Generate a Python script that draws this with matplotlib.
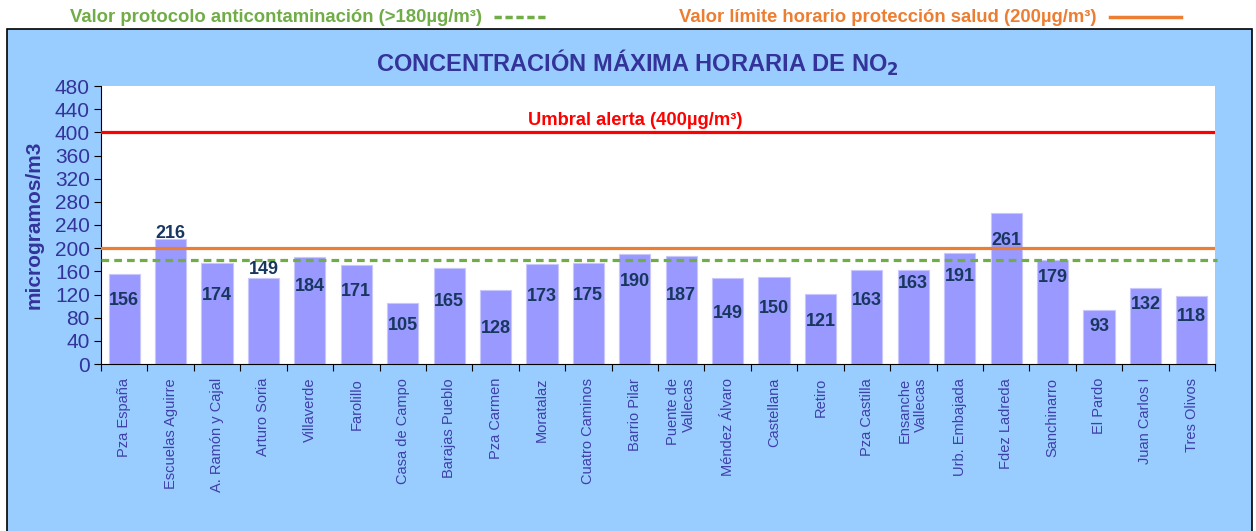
import matplotlib
matplotlib.use("Agg")
import matplotlib.pyplot as plt
import matplotlib.patches as mpatches
from matplotlib.lines import Line2D
import numpy as np

plt.rcParams['font.family'] = ['Liberation Sans', 'DejaVu Sans']

stations = ["Pza España", "Escuelas Aguirre", "A. Ramón y Cajal", "Arturo Soria",
            "Villaverde", "Farolillo", "Casa de Campo", "Barajas Pueblo", "Pza Carmen",
            "Moratalaz", "Cuatro Caminos", "Barrio Pilar", "Puente de\nVallecas",
            "Méndez Álvaro", "Castellana", "Retiro", "Pza Castilla", "Ensanche\nVallecas",
            "Urb. Embajada", "Fdez Ladreda", "Sanchinarro", "El Pardo", "Juan Carlos I",
            "Tres Olivos"]
values = [156, 216, 174, 149, 184, 171, 105, 165, 128, 173, 175, 190, 187,
          149, 150, 121, 163, 163, 191, 261, 179, 93, 132, 118]
# data label heights (layout, in data units)
label_y = [110, 226, 119, 164, 133, 125, 67, 108, 62, 116, 119, 142, 119,
           88, 96, 73, 110, 139, 151, 213, 150, 64, 102, 82]
alert_value = 400
limit_value = 200
protocol_value = 180
yticks = list(range(0, 481, 40))

W, H = 1256, 531
fig = plt.figure(figsize=(W / 100, H / 100), dpi=100)
fig.patch.set_facecolor('white')

# blue panel
panel = mpatches.Rectangle((7 / W, -0.01), (1252 - 7) / W, 1 - 29 / H + 0.01,
                           transform=fig.transFigure, facecolor='#99CCFF',
                           edgecolor='black', linewidth=1.2, zorder=0)
fig.patches.append(panel)

ax = fig.add_axes([101 / W, 1 - 364 / H, (1215 - 101) / W, (364 - 86) / H])
ax.set_facecolor('white')
ax.set_zorder(1)

x = np.arange(len(values))
ax.bar(x, values, width=0.67, color='#9999FF', edgecolor='#C8C8FF', linewidth=0.8, zorder=2)

ax.set_xlim(-0.5, len(values) - 0.5)
ax.set_ylim(0, 480)

ax.axhline(alert_value, color='#FF0000', linewidth=2.3, zorder=3)
ax.axhline(limit_value, color='#ED7D31', linewidth=2.3, zorder=3)
ax.plot([-0.5, len(values) - 0.45], [protocol_value, protocol_value], color='#70AD47',
        linewidth=2.3, linestyle=(0, (2.4, 1.6)), zorder=3, clip_on=False)

for xi, v, ly in zip(x, values, label_y):
    ax.text(xi, ly, str(v), ha='center', va='center', fontsize=13, fontweight='bold',
            color='#17375E', zorder=4)

ax.text(11, 421, "Umbral alerta (400µg/m³)", ha='center', va='center', fontsize=13.2,
        fontweight='bold', color='#FF0000', zorder=4)

# axes styling
for s in ['top', 'right']:
    ax.spines[s].set_visible(False)
ax.spines['left'].set_color('black')
ax.spines['bottom'].set_color('black')
ax.set_yticks(yticks)
ax.tick_params(axis='y', direction='out', length=5, colors='black', labelsize=15,
               labelcolor='#333399', pad=3)
ax.set_xticks(np.arange(-0.5, len(values), 1.0))
ax.set_xticklabels([])
ax.tick_params(axis='x', which='major', direction='out', length=5, colors='black')
ax.set_xticks(x, minor=True)
ax.set_xticklabels(stations, minor=True, rotation=90, fontsize=10.5, color='#3F3FA8',
                   ha='center', va='top', multialignment='right')
ax.tick_params(axis='x', which='minor', length=0, pad=10)

ax.set_ylabel("microgramos/m3", fontsize=15, fontweight='bold', color='#333399', labelpad=8)

fig.text(637 / W, 1 - 63 / H, "CONCENTRACIÓN MÁXIMA HORARIA DE NO$_\\mathbf{2}$",
         ha='center', va='center', fontsize=17, fontweight='bold', color='#333399')

# top legend
fig.text(70 / W, 1 - 17 / H, "Valor protocolo anticontaminación (>180µg/m³)",
         ha='left', va='center', fontsize=13.3, fontweight='bold', color='#70AD47')
fig.add_artist(Line2D([494 / W, 545 / W], [1 - 17 / H, 1 - 17 / H], transform=fig.transFigure,
                      color='#70AD47', linewidth=2.5, linestyle=(0, (2.1, 1.05))))
fig.text(679 / W, 1 - 17 / H, "Valor límite horario protección salud (200µg/m³)",
         ha='left', va='center', fontsize=13.3, fontweight='bold', color='#ED7D31')
fig.add_artist(Line2D([1110 / W, 1181 / W], [1 - 17 / H, 1 - 17 / H], transform=fig.transFigure,
                      color='#ED7D31', linewidth=2.5))

fig.savefig('out.png', dpi=100, facecolor='white')
